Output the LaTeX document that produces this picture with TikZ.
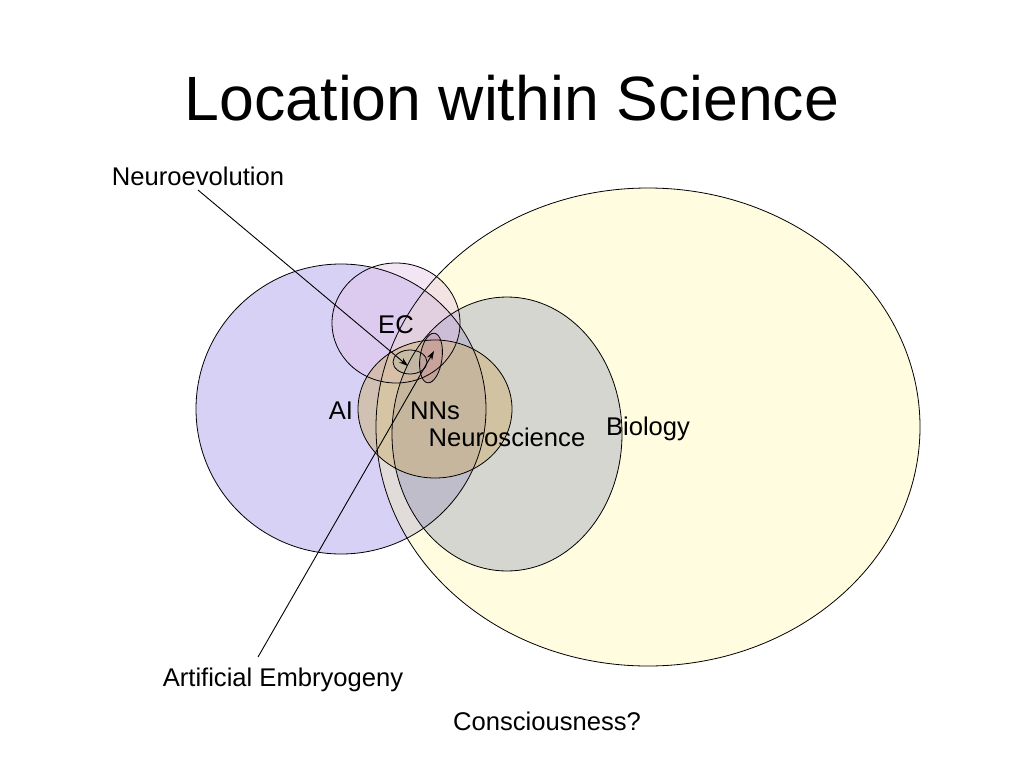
\documentclass[tikz,border=0pt]{standalone}
\usepackage{fontspec}
\setmainfont{Liberation Sans}
\usetikzlibrary{arrows.meta}
\definecolor{aicol}{RGB}{215,210,245}
\definecolor{biocol}{RGB}{255,247,135}
\definecolor{eccol}{RGB}{229,190,232}
\definecolor{nscol}{RGB}{43,52,175}
\definecolor{nncol}{RGB}{205,177,115}
\definecolor{necol}{RGB}{180,185,165}
\definecolor{aecol}{RGB}{190,120,140}
\tikzset{
  venn/.style={draw=black, line width=0.8pt},
  lbl/.style={font=\fontsize{25.6}{30}\selectfont, inner sep=0pt},
  ptr/.style={draw=black, line width=0.9pt, -{Stealth[length=9pt,width=6pt]}},
}
\begin{document}
\begin{tikzpicture}[x=1pt,y=-1pt]
\useasboundingbox (0,0) rectangle (1024,768);
\fill[white] (0,0) rectangle (1024,768);
% title
\node[font=\fontsize{62.6}{70}\selectfont, inner sep=0pt] (title) at (512,98) {Location within Science};
% sets (fills)
\fill[aicol] (341,409) circle [radius=145];
\fill[nscol, fill opacity=0.25] (507,434) ellipse [x radius=115, y radius=137];
\fill[biocol, fill opacity=0.25] (648,427) ellipse [x radius=272, y radius=239];
\fill[eccol, fill opacity=0.4] (396,323) ellipse [x radius=64, y radius=60];
\fill[nncol, fill opacity=0.5] (435,409) ellipse [x radius=77, y radius=69];
\fill[necol, fill opacity=0.45] (410,362) ellipse [x radius=17, y radius=12];
\fill[aecol, fill opacity=0.3, rotate around={-8:(431,358)}] (431,358) ellipse [x radius=11, y radius=25];
% outlines
\draw[venn] (341,409) circle [radius=145];
\draw[venn] (648,427) ellipse [x radius=272, y radius=239];
\draw[venn] (396,323) ellipse [x radius=64, y radius=60];
\draw[venn] (507,434) ellipse [x radius=115, y radius=137];
\draw[venn] (435,409) ellipse [x radius=77, y radius=69];
\draw[venn] (410,362) ellipse [x radius=17, y radius=12];
\draw[venn, rotate around={-8:(431,358)}] (431,358) ellipse [x radius=11, y radius=25];
% labels
\node[lbl] (ec) at (396,325) {EC};
\node[lbl] (ai) at (341,411) {AI};
\node[lbl] (nns) at (435,411) {NNs};
\node[lbl] (ns) at (507,437) {Neuroscience};
\node[lbl] (bio) at (648,429) {Biology};
\node[lbl] (neuroevo) at (198,176) {Neuroevolution};
\node[lbl] (artemb) at (283,680) {Artificial Embryogeny};
\node[lbl] (consc) at (547,721) {Consciousness?};
% pointers
\coordinate (neStart) at (198,190);
\coordinate (neTip) at (408,366);
\coordinate (aeStart) at (258,657);
\coordinate (aeTip) at (434,351);
\draw[ptr] (neStart) -- (neTip);
\draw[ptr] (aeStart) -- (aeTip);
\end{tikzpicture}
\end{document}
